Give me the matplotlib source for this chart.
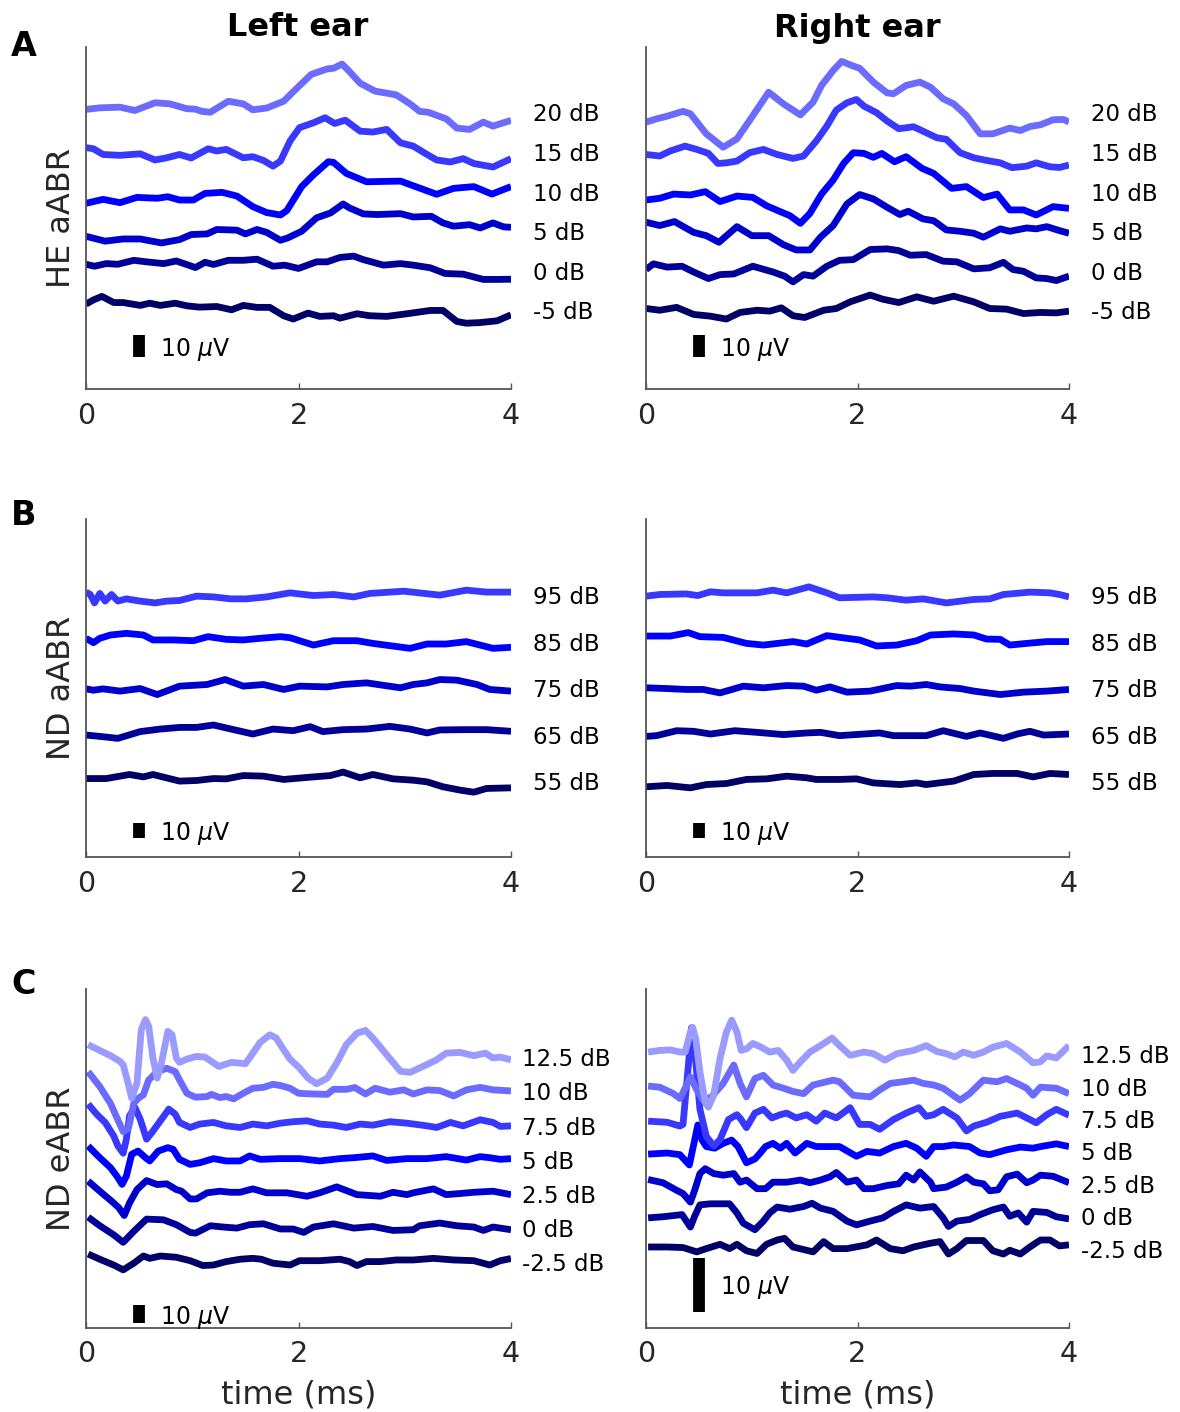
import numpy as np
import matplotlib
matplotlib.use("Agg")
import matplotlib.pyplot as plt

# ---- data (time in ms, amplitude in uV relative to each trace's level) ----
he_names = ["20 dB", "15 dB", "10 dB", "5 dB", "0 dB", "-5 dB"]
nd_names = ["95 dB", "85 dB", "75 dB", "65 dB", "55 dB"]
ea_names = ["12.5 dB", "10 dB", "7.5 dB", "5 dB", "2.5 dB", "0 dB", "-2.5 dB"]

he_left_t = [
    [0, 0.13, 0.32, 0.46, 0.65, 0.79, 0.95, 1.03, 1.09, 1.17, 1.34, 1.48, 1.57, 1.70, 1.86, 1.98, 2.12, 2.27, 2.33, 2.41, 2.47, 2.58, 2.72, 2.92, 3.05, 3.14, 3.22, 3.39, 3.49, 3.61, 3.74, 3.83, 4.0],
    [0, 0.07, 0.16, 0.32, 0.51, 0.65, 0.76, 0.88, 0.99, 1.15, 1.23, 1.32, 1.48, 1.57, 1.67, 1.76, 1.83, 1.92, 2.01, 2.14, 2.25, 2.34, 2.44, 2.58, 2.70, 2.83, 2.96, 3.08, 3.21, 3.30, 3.43, 3.55, 3.65, 3.83, 4.0],
    [0, 0.16, 0.32, 0.48, 0.67, 0.77, 0.88, 1.01, 1.12, 1.28, 1.42, 1.57, 1.70, 1.83, 1.89, 2.03, 2.14, 2.28, 2.33, 2.45, 2.64, 2.96, 3.30, 3.46, 3.65, 3.82, 4.0],
    [0, 0.18, 0.35, 0.51, 0.71, 0.88, 0.99, 1.14, 1.23, 1.42, 1.50, 1.61, 1.70, 1.83, 1.90, 2.03, 2.17, 2.30, 2.42, 2.48, 2.61, 2.74, 2.96, 3.08, 3.25, 3.36, 3.46, 3.61, 3.71, 3.83, 3.93, 4.0],
    [0, 0.08, 0.19, 0.30, 0.45, 0.57, 0.73, 0.85, 1.03, 1.12, 1.20, 1.34, 1.48, 1.61, 1.76, 1.87, 2.00, 2.17, 2.27, 2.39, 2.52, 2.61, 2.80, 2.96, 3.08, 3.24, 3.38, 3.55, 3.74, 3.87, 4.0],
    [0, 0.07, 0.15, 0.26, 0.35, 0.51, 0.60, 0.70, 0.84, 0.95, 1.07, 1.23, 1.37, 1.48, 1.61, 1.73, 1.86, 1.95, 2.09, 2.20, 2.33, 2.39, 2.55, 2.67, 2.83, 3.02, 3.24, 3.36, 3.49, 3.58, 3.71, 3.87, 4.0],
]
he_left_uv = [
    [1.1, 1.8, 2.1, 0.6, 4.1, 3.6, 1.4, 1.2, 0.2, -0.2, 4.8, 3.6, 0.9, 1.7, 4.8, 10.5, 17.0, 19.5, 19.8, 21.7, 18.8, 13.0, 9.4, 7.7, 3.6, 0.2, -0.2, -3.2, -7.4, -8.0, -4.7, -6.5, -3.9],
    [1.7, 1.2, -1.4, -1.8, -1.1, -3.9, -2.9, -1.4, -3.0, 1.2, 0.2, 0.9, -2.9, -2.4, -4.1, -6.7, -4.4, 4.7, 10.8, 13.0, 15.3, 12.7, 14.2, 9.2, 8.8, 10.0, 3.9, 2.4, -1.4, -3.9, -4.8, -3.3, -5.5, -7.1, -3.3],
    [-5.6, -3.8, -5.3, -2.9, -3.3, -2.6, -4.1, -4.1, -1.1, -0.6, -2.3, -7.1, -9.8, -10.9, -8.9, 2.0, 7.3, 13.3, 13.0, 8.0, 4.2, 4.5, -1.5, 1.2, 2.0, -1.4, 2.0],
    [-2.6, -4.8, -3.8, -3.8, -5.6, -4.1, -1.8, -1.5, 0.5, 0.2, -1.5, 0.5, -0.8, -4.4, -3.3, -0.3, 5.8, 8.0, 12.1, 10.3, 7.6, 7.3, 7.7, 6.2, 6.5, 3.5, 2.0, 2.7, 1.2, 3.5, 1.7, 1.5],
    [2.7, 1.8, 3.0, 2.7, 4.5, 3.8, 3.0, 4.2, 1.2, 3.6, 2.6, 4.5, 4.5, 5.0, 1.8, 2.3, 0.8, 3.8, 3.8, 5.8, 6.4, 4.8, 2.3, 3.0, 2.3, 1.1, -1.5, -1.8, -4.2, -4.2, -4.1],
    [2.6, 4.5, 6.1, 3.3, 3.3, 2.0, 3.0, 2.0, 3.0, 1.8, 1.2, 1.5, 0.0, 2.0, 1.1, 1.1, -2.7, -4.2, -1.5, -3.0, -2.7, -3.8, -1.8, -2.7, -3.0, -1.8, -0.3, -0.3, -5.3, -6.1, -5.8, -5.0, -2.3],
]

he_right_t = [
    [0, 0.10, 0.20, 0.35, 0.42, 0.57, 0.73, 0.86, 0.98, 1.16, 1.30, 1.46, 1.58, 1.66, 1.77, 1.85, 1.96, 2.02, 2.15, 2.28, 2.34, 2.46, 2.59, 2.69, 2.81, 2.91, 3.03, 3.16, 3.28, 3.44, 3.54, 3.63, 3.73, 3.85, 3.95, 4.0],
    [0, 0.13, 0.23, 0.37, 0.48, 0.59, 0.68, 0.76, 0.86, 0.98, 1.11, 1.24, 1.39, 1.49, 1.61, 1.71, 1.80, 1.90, 1.99, 2.06, 2.18, 2.28, 2.39, 2.53, 2.65, 2.75, 2.84, 2.97, 3.10, 3.22, 3.35, 3.46, 3.60, 3.69, 3.82, 3.91, 4.0],
    [0, 0.13, 0.26, 0.42, 0.56, 0.70, 0.86, 1.01, 1.14, 1.27, 1.36, 1.46, 1.55, 1.66, 1.77, 1.87, 1.96, 2.06, 2.15, 2.23, 2.35, 2.46, 2.61, 2.72, 2.89, 3.03, 3.19, 3.32, 3.44, 3.57, 3.69, 3.85, 4.0],
    [0, 0.13, 0.27, 0.45, 0.57, 0.69, 0.86, 1.00, 1.16, 1.30, 1.42, 1.55, 1.65, 1.77, 1.90, 2.02, 2.15, 2.28, 2.40, 2.48, 2.62, 2.72, 2.84, 2.97, 3.10, 3.19, 3.35, 3.44, 3.60, 3.69, 3.79, 3.91, 4.0],
    [0, 0.07, 0.20, 0.34, 0.45, 0.59, 0.70, 0.83, 1.01, 1.20, 1.31, 1.39, 1.49, 1.58, 1.71, 1.83, 1.96, 2.12, 2.28, 2.39, 2.50, 2.65, 2.81, 2.94, 3.10, 3.25, 3.38, 3.47, 3.57, 3.69, 3.79, 3.88, 4.0],
    [0, 0.13, 0.29, 0.45, 0.61, 0.76, 0.89, 1.05, 1.17, 1.28, 1.39, 1.50, 1.68, 1.80, 1.93, 2.12, 2.24, 2.39, 2.56, 2.72, 2.91, 3.10, 3.25, 3.41, 3.57, 3.73, 3.88, 4.0],
]
he_right_uv = [
    [-4.7, -3.2, -2.0, 0.2, -0.9, -10.0, -16.1, -12.3, -3.9, 8.9, 3.6, -1.4, 4.4, 12.0, 18.8, 22.9, 20.8, 19.8, 13.5, 8.6, 8.2, 12.0, 13.5, 11.2, 5.9, 3.6, -1.7, -10.0, -10.0, -7.4, -8.5, -6.7, -5.9, -3.6, -3.5, -4.7],
    [-1.4, -2.1, 0.2, 2.4, 0.9, -0.9, -5.5, -5.2, -4.4, -0.6, 0.9, -1.4, -3.2, -2.1, 4.7, 11.5, 18.8, 22.1, 23.6, 20.6, 17.6, 13.8, 10.3, 11.2, 8.5, 6.2, 5.5, -0.6, -2.9, -4.1, -5.2, -7.4, -6.7, -5.2, -7.0, -7.3, -6.2],
    [-4.1, -3.3, -1.4, -1.8, -0.3, -4.8, -2.3, -2.9, -6.7, -9.4, -11.2, -14.7, -10.2, -1.4, 5.0, 12.6, 17.4, 17.1, 15.3, 17.1, 13.3, 15.6, 10.3, 8.0, 1.2, 2.0, -3.0, -1.4, -8.6, -8.6, -10.9, -7.1, -7.9],
    [3.8, 2.3, 4.1, -0.8, -2.3, -5.3, 1.8, -2.3, -2.3, -6.4, -8.8, -8.8, -3.0, 2.3, 12.1, 16.4, 14.4, 10.6, 7.3, 8.8, 5.3, 4.5, 0.3, -0.3, -1.2, -3.0, 0.8, -0.3, 1.2, 0.8, 1.8, 0.0, -1.2],
    [0.3, 2.9, 1.4, 1.8, -0.8, -3.8, -2.0, -1.7, 1.8, -0.8, -2.7, -5.3, -2.0, -2.7, 1.8, 4.5, 4.8, 9.4, 9.7, 8.9, 6.8, 7.1, 4.1, 3.8, 0.6, 1.1, 3.6, 0.3, -0.5, -3.5, -3.8, -4.7, -2.7],
    [0.6, -0.2, 1.1, -2.1, -2.9, -4.2, -1.2, -0.2, -0.6, 0.9, -2.7, -3.5, -0.2, 0.6, 3.6, 6.7, 4.8, 3.3, 5.9, 3.9, 6.2, 3.6, 0.6, 0.3, -1.7, -1.2, -1.4, -0.6],
]

nd_left_t = [
    [0, 0.04, 0.08, 0.13, 0.18, 0.24, 0.30, 0.38, 0.51, 0.65, 0.76, 0.88, 1.04, 1.20, 1.36, 1.51, 1.70, 1.92, 2.14, 2.33, 2.52, 2.67, 2.99, 3.33, 3.58, 3.77, 4.0],
    [0, 0.07, 0.13, 0.23, 0.38, 0.54, 0.63, 0.82, 1.01, 1.15, 1.32, 1.48, 1.64, 1.83, 1.92, 2.14, 2.33, 2.55, 2.70, 3.05, 3.21, 3.39, 3.58, 3.83, 4.0],
    [0, 0.07, 0.16, 0.32, 0.51, 0.67, 0.88, 1.14, 1.31, 1.48, 1.67, 1.86, 2.01, 2.27, 2.42, 2.64, 2.96, 3.08, 3.21, 3.33, 3.49, 3.68, 3.80, 4.0],
    [0, 0.13, 0.30, 0.51, 0.70, 0.88, 1.04, 1.20, 1.39, 1.57, 1.76, 1.95, 2.11, 2.23, 2.42, 2.64, 2.86, 3.05, 3.21, 3.33, 3.55, 3.77, 4.0],
    [0, 0.19, 0.41, 0.54, 0.63, 0.88, 1.04, 1.20, 1.32, 1.48, 1.67, 1.86, 2.14, 2.30, 2.42, 2.58, 2.70, 2.89, 3.08, 3.21, 3.36, 3.52, 3.65, 3.77, 4.0],
]
nd_left_uv = [
    [1.6, 0.0, -5.6, 0.7, -4.4, 0.0, -4.4, -2.9, -4.4, -5.6, -4.4, -4.0, -1.1, -1.6, -2.9, -2.9, -1.6, 1.1, -0.7, 0.0, -1.6, 0.7, 2.2, -0.4, 2.9, 1.6, 1.6],
    [1.8, -1.1, 1.8, 4.0, 5.1, 4.0, 0.7, 0.7, 0.2, 2.9, 1.1, 0.7, 1.8, 2.9, 2.2, -2.7, 0.2, 0.2, -1.6, -4.9, -2.0, -2.0, -0.4, -4.9, -4.2],
    [-0.9, -1.8, -0.9, -2.4, -0.7, -4.7, 0.9, 2.0, 5.3, 0.9, 2.0, -1.3, 0.9, 0.4, 2.0, 3.1, -0.2, 2.0, 3.1, 5.3, 4.9, 2.0, -1.3, -2.4],
    [-0.7, -1.6, -2.9, 1.6, 3.3, 4.4, 4.4, 6.0, 2.9, 0.0, 3.3, 2.2, 4.9, 1.6, 2.9, 3.3, 5.1, 3.3, 0.7, 2.7, 2.9, 2.9, 1.8],
    [1.3, 1.3, 4.0, 2.4, 4.0, -0.4, 0.0, 1.3, 1.1, 3.3, 2.9, 0.7, 2.4, 3.3, 5.6, 1.8, 4.0, 1.1, 0.2, -0.9, -4.2, -6.4, -7.8, -5.3, -4.9],
]

nd_right_t = [
    [0, 0.13, 0.38, 0.49, 0.61, 0.73, 1.05, 1.20, 1.33, 1.54, 1.71, 1.83, 2.15, 2.28, 2.46, 2.62, 2.84, 3.10, 3.25, 3.38, 3.63, 3.82, 3.91, 4.0],
    [0, 0.23, 0.40, 0.51, 0.73, 0.95, 1.11, 1.39, 1.52, 1.71, 1.90, 2.02, 2.18, 2.37, 2.56, 2.69, 2.91, 3.10, 3.22, 3.35, 3.44, 3.60, 3.79, 4.0],
    [0, 0.20, 0.38, 0.54, 0.70, 0.92, 1.11, 1.33, 1.49, 1.61, 1.74, 1.90, 2.12, 2.37, 2.50, 2.65, 2.78, 2.97, 3.10, 3.35, 3.57, 3.79, 4.0],
    [0, 0.10, 0.29, 0.45, 0.61, 0.84, 1.05, 1.30, 1.52, 1.65, 1.83, 2.21, 2.34, 2.56, 2.65, 2.81, 3.03, 3.16, 3.38, 3.51, 3.63, 3.76, 4.0],
    [0, 0.20, 0.42, 0.57, 0.76, 0.95, 1.14, 1.33, 1.52, 1.61, 1.83, 1.99, 2.15, 2.40, 2.56, 2.65, 2.91, 3.10, 3.28, 3.51, 3.66, 3.82, 4.0],
]
nd_right_uv = [
    [-1.1, 0.0, 0.4, -0.7, 1.8, 1.1, 1.1, 2.9, 1.1, 5.1, 1.1, -2.2, -1.6, -2.2, -3.8, -2.9, -5.6, -3.3, -2.9, 0.0, 1.6, 1.1, 0.0, -1.6],
    [3.3, 3.3, 5.6, 2.9, 2.4, -1.6, -2.7, -0.4, -2.0, 3.6, 1.8, 0.7, -3.3, -2.7, 0.2, 4.0, 4.7, 4.0, 1.3, 1.1, -2.7, -1.6, -0.4, -0.4],
    [-0.2, -0.7, -1.3, -1.3, -3.6, 0.9, -0.2, 1.3, 0.9, -1.8, 0.4, -3.1, -2.4, 1.3, 0.9, 2.0, 0.4, -0.7, -2.4, -4.7, -3.1, -2.4, -1.3],
    [-1.6, -1.1, 2.2, 1.8, 0.0, 2.2, 1.1, -0.4, 0.7, 1.1, -1.1, 0.7, -1.1, -1.1, -1.1, 2.2, -1.6, 0.7, -2.9, 0.0, 1.8, -0.7, 0.0],
    [-4.2, -3.3, -4.9, -2.7, -2.0, 0.7, 1.1, 2.9, 1.8, 0.7, 0.7, 1.1, -1.6, -2.7, -1.6, -2.7, -0.4, 4.0, 4.7, 4.7, 2.4, 4.7, 4.0],
]

ea_left_t = [
    [0.02, 0.13, 0.23, 0.32, 0.35, 0.40, 0.43, 0.48, 0.52, 0.56, 0.59, 0.63, 0.67, 0.71, 0.77, 0.81, 0.85, 0.88, 0.95, 1.04, 1.12, 1.18, 1.25, 1.37, 1.50, 1.56, 1.64, 1.73, 1.79, 1.86, 1.92, 2.01, 2.09, 2.17, 2.27, 2.36, 2.45, 2.55, 2.63, 2.70, 2.83, 2.96, 3.05, 3.17, 3.30, 3.39, 3.52, 3.65, 3.76, 3.83, 3.90, 4.0],
    [0.02, 0.13, 0.23, 0.30, 0.35, 0.40, 0.45, 0.49, 0.54, 0.59, 0.67, 0.76, 0.84, 0.88, 0.95, 1.03, 1.14, 1.18, 1.26, 1.32, 1.39, 1.48, 1.57, 1.67, 1.76, 1.83, 1.92, 2.00, 2.14, 2.27, 2.33, 2.45, 2.53, 2.63, 2.72, 2.86, 2.99, 3.08, 3.21, 3.33, 3.46, 3.58, 3.71, 3.83, 4.0],
    [0.02, 0.10, 0.18, 0.26, 0.30, 0.35, 0.38, 0.41, 0.46, 0.51, 0.57, 0.62, 0.70, 0.78, 0.84, 0.88, 0.98, 1.07, 1.20, 1.32, 1.45, 1.57, 1.70, 1.83, 1.95, 2.08, 2.20, 2.33, 2.45, 2.58, 2.70, 2.86, 3.02, 3.21, 3.30, 3.43, 3.55, 3.71, 3.83, 3.90, 4.0],
    [0.02, 0.13, 0.23, 0.29, 0.34, 0.38, 0.43, 0.49, 0.56, 0.60, 0.68, 0.77, 0.82, 0.88, 0.98, 1.07, 1.20, 1.32, 1.45, 1.54, 1.64, 1.83, 2.01, 2.20, 2.39, 2.52, 2.70, 2.83, 3.02, 3.21, 3.39, 3.58, 3.71, 3.80, 3.90, 4.0],
    [0.02, 0.13, 0.26, 0.31, 0.36, 0.41, 0.48, 0.57, 0.67, 0.76, 0.85, 0.90, 0.98, 1.04, 1.14, 1.26, 1.36, 1.45, 1.57, 1.70, 1.89, 2.08, 2.20, 2.36, 2.55, 2.77, 2.89, 3.02, 3.08, 3.27, 3.39, 3.52, 3.65, 3.83, 4.0],
    [0.02, 0.13, 0.26, 0.35, 0.45, 0.57, 0.73, 0.85, 0.98, 1.03, 1.17, 1.29, 1.42, 1.54, 1.67, 1.83, 1.95, 2.05, 2.14, 2.33, 2.52, 2.70, 2.89, 3.08, 3.14, 3.33, 3.49, 3.65, 3.74, 3.83, 4.0],
    [0.02, 0.13, 0.26, 0.35, 0.45, 0.54, 0.60, 0.70, 0.85, 0.98, 1.10, 1.20, 1.32, 1.45, 1.57, 1.65, 1.76, 1.92, 2.01, 2.20, 2.39, 2.48, 2.55, 2.64, 2.77, 2.92, 3.08, 3.27, 3.46, 3.65, 3.80, 3.90, 4.0],
]
ea_left_uv = [
    [6.7, 3.5, 0.6, -2.6, -4.4, -15.6, -23.0, -14.6, 15.0, 20.6, 16.9, -0.7, -11.9, -3.5, 14.1, 12.2, -0.7, -3.1, -1.3, 0.2, -0.2, -2.6, -5.4, -3.1, -3.9, 1.1, 8.0, 12.2, 10.4, 3.9, -1.3, -6.3, -11.9, -15.0, -11.9, -3.5, 6.7, 13.1, 14.6, 10.4, 1.1, -8.1, -8.7, -5.4, -1.7, 2.0, 2.4, 0.6, 2.0, -0.7, -0.2, -1.7],
    [10.7, 2.4, -6.9, -16.1, -22.6, -20.7, -6.9, -4.1, -2.2, 6.1, 10.7, 12.6, 10.7, 6.1, -1.3, -3.5, -3.1, -1.9, -3.7, -3.1, -4.4, -1.3, 1.5, 2.0, 3.7, 3.0, 1.5, -1.3, -1.7, -1.9, 0.9, 0.9, 1.9, -1.7, 1.5, -0.7, 0.6, -1.7, 0.6, 0.2, -2.8, 0.6, 2.0, 0.6, 0.0],
    [11.7, 6.1, 1.5, -5.9, -11.5, -15.6, -7.8, 5.2, 9.8, 3.3, -7.8, -4.1, 2.4, 8.9, 6.1, 1.5, -1.3, 0.6, 1.5, -0.4, -1.3, 0.6, -0.4, 1.1, 1.9, 2.4, 0.6, 0.0, -1.3, 0.6, 0.0, 1.9, 1.1, -0.4, -1.3, 1.5, -0.4, 3.0, 1.5, -0.7, -0.4],
    [7.4, 0.9, -4.6, -9.3, -13.9, -9.3, 2.8, 4.6, 0.9, -0.9, 4.6, 6.5, 5.6, 0.0, -2.8, -1.9, 0.4, -0.9, -0.9, 1.9, 0.0, 0.4, 0.4, -0.9, 0.4, 0.9, 1.9, -0.6, 0.4, 0.4, 1.5, -0.4, 1.5, 0.9, 0.0, 0.4],
    [6.9, 1.3, -5.2, -8.0, -12.2, -5.2, 2.2, 7.2, 5.0, 5.4, 2.2, 1.3, -3.0, -3.0, 0.4, 1.3, 0.7, 0.7, 2.6, 0.4, 0.4, -1.5, 0.4, 3.7, -0.6, -1.5, 0.7, -0.6, 0.4, 2.6, -0.6, 0.0, 0.7, 1.3, -0.6],
    [5.9, 1.1, -3.9, -8.1, -2.0, 4.8, 4.4, 1.7, -2.6, -3.0, 1.1, 0.4, -0.2, 1.7, 2.2, -0.7, -0.7, -2.6, 0.4, 2.2, -0.2, 0.7, -1.5, -1.1, 1.1, 2.6, 1.1, 0.4, -1.5, 0.4, -1.1],
    [4.4, 1.5, -1.7, -4.4, -0.7, 3.3, 2.0, 3.3, 2.6, 0.7, -2.0, -1.7, 0.2, 1.5, 2.0, 1.5, -0.7, -1.7, 0.7, 0.7, 1.5, 0.2, -2.0, 0.2, 0.2, 1.1, 1.1, 2.0, 1.1, 0.7, -1.7, 0.7, 1.9],
]

ea_right_t = [
    [0.02, 0.13, 0.23, 0.32, 0.37, 0.42, 0.44, 0.47, 0.51, 0.56, 0.59, 0.64, 0.70, 0.76, 0.81, 0.86, 0.90, 0.95, 1.01, 1.09, 1.17, 1.25, 1.33, 1.39, 1.46, 1.55, 1.65, 1.76, 1.83, 1.93, 2.06, 2.15, 2.26, 2.37, 2.53, 2.65, 2.75, 2.84, 2.92, 3.00, 3.10, 3.19, 3.28, 3.41, 3.54, 3.66, 3.73, 3.79, 3.88, 4.0],
    [0.02, 0.13, 0.26, 0.32, 0.37, 0.42, 0.48, 0.54, 0.62, 0.73, 0.83, 0.89, 0.95, 1.03, 1.11, 1.20, 1.30, 1.39, 1.49, 1.58, 1.77, 1.83, 1.96, 2.12, 2.21, 2.31, 2.43, 2.53, 2.62, 2.72, 2.81, 2.97, 3.06, 3.19, 3.32, 3.41, 3.54, 3.60, 3.66, 3.73, 3.88, 4.0],
    [0.02, 0.20, 0.32, 0.35, 0.40, 0.43, 0.46, 0.51, 0.57, 0.64, 0.70, 0.78, 0.86, 0.90, 0.95, 1.03, 1.11, 1.19, 1.27, 1.33, 1.42, 1.52, 1.61, 1.69, 1.80, 1.93, 2.02, 2.12, 2.21, 2.34, 2.46, 2.58, 2.65, 2.72, 2.81, 2.94, 3.03, 3.10, 3.22, 3.35, 3.51, 3.57, 3.69, 3.79, 3.88, 4.0],
    [0.02, 0.20, 0.32, 0.41, 0.46, 0.49, 0.53, 0.57, 0.65, 0.73, 0.81, 0.87, 0.95, 1.03, 1.08, 1.13, 1.20, 1.27, 1.33, 1.41, 1.52, 1.61, 1.74, 1.83, 1.99, 2.09, 2.21, 2.34, 2.46, 2.56, 2.65, 2.72, 2.81, 2.91, 3.06, 3.16, 3.25, 3.41, 3.54, 3.66, 3.73, 3.88, 4.0],
    [0.02, 0.16, 0.29, 0.35, 0.42, 0.46, 0.51, 0.56, 0.64, 0.73, 0.83, 0.89, 0.95, 1.05, 1.13, 1.20, 1.33, 1.46, 1.55, 1.65, 1.74, 1.80, 1.90, 1.99, 2.06, 2.15, 2.28, 2.39, 2.46, 2.53, 2.59, 2.69, 2.72, 2.84, 2.94, 3.03, 3.10, 3.19, 3.25, 3.33, 3.41, 3.51, 3.60, 3.66, 3.73, 3.85, 4.0],
    [0.02, 0.16, 0.34, 0.42, 0.46, 0.51, 0.61, 0.79, 0.86, 0.92, 1.03, 1.11, 1.17, 1.24, 1.36, 1.49, 1.57, 1.65, 1.77, 1.90, 1.99, 2.12, 2.24, 2.34, 2.46, 2.59, 2.72, 2.81, 2.86, 2.94, 3.06, 3.16, 3.28, 3.38, 3.44, 3.52, 3.60, 3.66, 3.79, 3.88, 4.0],
    [0.02, 0.20, 0.35, 0.48, 0.57, 0.70, 0.79, 0.86, 0.95, 1.05, 1.14, 1.24, 1.31, 1.39, 1.58, 1.68, 1.77, 1.90, 2.09, 2.18, 2.31, 2.43, 2.53, 2.69, 2.78, 2.86, 2.94, 3.03, 3.19, 3.28, 3.38, 3.44, 3.54, 3.63, 3.73, 3.82, 3.91, 4.0],
]
ea_right_uv = [
    [0.3, 0.6, 0.7, 0.3, 0.3, 4.0, 4.9, 2.8, -3.4, -9.0, -9.9, -7.7, -0.9, 4.0, 6.2, 4.0, 0.6, 0.9, 1.9, 1.2, 0.3, 0.6, -1.2, -3.1, -1.5, 0.3, 1.5, 2.9, 1.5, -0.3, 0.3, 0.0, -1.2, 0.0, 0.6, 1.5, 0.4, 0.0, -0.6, 0.3, -0.3, 0.3, 1.2, 1.9, 0.3, -1.7, -1.5, -0.4, -0.8, 1.5],
    [0.0, -0.2, -1.4, -2.3, -0.4, 1.7, -0.7, -2.6, -2.0, 0.5, 3.9, 0.5, -2.0, 1.4, 2.0, 0.2, -0.4, -1.0, -1.4, 0.2, 1.1, 0.8, -1.7, -2.0, -0.7, 0.5, 0.8, 1.1, 0.5, 0.2, -0.4, -2.6, -1.4, 1.1, 0.8, 1.4, 0.2, -0.4, -1.7, -0.2, -0.4, -1.4],
    [-0.5, -0.7, -1.4, -1.1, 9.7, 16.8, 12.8, 1.7, -3.3, -5.1, -3.9, -0.2, 0.7, -0.2, -1.7, 1.0, 1.7, 0.1, 0.7, 1.0, 0.1, 0.7, -0.5, 1.0, 0.1, 2.0, -1.1, -1.1, -2.0, -0.2, 1.0, 2.0, 0.4, 0.7, 1.7, 0.1, -2.3, -1.4, -0.7, 0.4, 1.0, 0.4, -0.8, 0.7, 1.7, 0.6],
    [-0.6, -0.4, -0.7, -2.6, 2.0, 4.8, 2.0, 0.8, 0.5, 1.4, 2.0, 0.8, -2.2, -1.5, -0.4, 0.8, 1.4, 0.5, 1.4, -0.4, 1.4, 0.8, 0.8, 0.8, -1.0, -0.1, -0.4, 0.8, 1.4, 0.5, -1.0, 0.8, 0.8, 1.1, 0.8, -0.4, -0.7, 0.2, 0.7, 0.5, 0.8, 1.3, 0.8],
    [0.7, 0.1, -1.3, -1.9, -3.5, -1.3, 1.8, 2.7, 1.8, 1.5, 1.8, 0.2, 0.6, -1.0, -1.0, 0.2, 0.2, 0.6, 0.1, 0.6, 1.2, 2.0, 0.2, 0.6, -1.0, -1.0, -0.4, -0.1, 1.5, 0.6, 2.1, 0.2, -1.0, -0.7, 0.2, 1.2, 0.2, -0.1, -1.4, -1.2, 1.2, 1.7, 0.1, 0.6, 1.5, 1.3, 0.1],
    [-0.4, -0.2, 0.2, -2.1, -0.1, 2.0, 2.2, 2.2, 0.5, -1.4, -2.6, -1.0, 0.5, 1.6, 1.2, 1.7, 2.3, 1.4, 0.8, -1.0, -1.7, -1.0, -0.4, 0.8, 2.0, 1.4, 1.7, -0.4, -2.0, -1.0, -0.7, 0.2, 1.1, 1.6, -0.1, 0.5, -1.2, 0.8, 0.6, -0.2, -0.6],
    [0.2, 0.2, 0.1, -0.7, -0.1, 0.7, -0.1, 0.7, -0.5, -1.0, 0.7, 1.5, 1.8, 0.2, -0.7, 1.2, -0.1, -0.1, 0.6, 1.5, -0.1, -0.5, 0.2, 0.9, 1.2, -1.1, -0.1, 1.4, 1.4, -0.5, -1.1, -0.4, -1.1, 0.2, 1.5, 1.5, 0.4, 0.6],
]

# ---- layout / style ----
he_colours = ["#6b6bff", "#3838ff", "#0000ff", "#0000cc", "#000099", "#000066"]
nd_colours = ["#3838ff", "#0000ff", "#0000cc", "#000099", "#000066"]
ea_colours = ["#9b9bff", "#6b6bff", "#3838ff", "#0000ff", "#0000cc", "#000099", "#000066"]

he_levels = [126, 108, 90, 72, 54, 36]
nd_levels = [175, 144, 113, 82, 51]
ea_left_levels = [150.7, 131.7, 112.7, 93.7, 74.7, 55.7, 36.7]
ea_right_levels = [50.8, 44.8, 38.8, 32.8, 26.8, 20.8, 14.8]

TEXT = "#262626"
SPINE = "#555555"


def draw_panel(ax, times, traces, names, levels, colours, top, bar, label_x):
    for t, uv, name, lev, c in reversed(list(zip(times, traces, names, levels, colours))):
        ax.plot(t, np.asarray(uv) + lev, color=c, lw=4.9,
                solid_joinstyle="round", solid_capstyle="butt")
        ax.annotate(name, (label_x, lev), xytext=(0, -2.2), textcoords="offset points",
                    fontsize=16.5, color="black", va="center", ha="left",
                    annotation_clip=False)
    ax.plot([0.5, 0.5], bar, color="black", lw=8.5, solid_capstyle="butt")
    ax.annotate("10 $\\mu$V", (0.7, np.mean(bar)), xytext=(0, -2.2),
                textcoords="offset points", fontsize=17, color="black",
                va="center", ha="left")
    ax.set_xlim(0, 4)
    ax.set_ylim(0, top)
    ax.set_xticks([0, 2, 4])
    ax.set_yticks([])
    for side in ["top", "right"]:
        ax.spines[side].set_visible(False)
    for side in ["left", "bottom"]:
        ax.spines[side].set_color(SPINE)
        ax.spines[side].set_linewidth(1.3)
    ax.tick_params(axis="x", direction="in", length=4, width=1, color=SPINE,
                   labelsize=20.5, labelcolor=TEXT, pad=9)


fig = plt.figure(figsize=(11.8, 14.12), dpi=100)
W, H = 1180.0, 1412.0


def add_axes(x0, x1, y0, y1):
    return fig.add_axes([x0 / W, 1 - y1 / H, (x1 - x0) / W, (y1 - y0) / H])


ax_he_l = add_axes(86, 511, 47, 389)
ax_he_r = add_axes(646, 1069, 47, 389)
ax_nd_l = add_axes(86, 511, 519, 857)
ax_nd_r = add_axes(646, 1069, 519, 857)
ax_ea_l = add_axes(86, 511, 989, 1328)
ax_ea_r = add_axes(646, 1069, 989, 1328)

draw_panel(ax_he_l, he_left_t, he_left_uv, he_names, he_levels, he_colours,
           342 / 2.2, (14.5, 24.5), 4.21)
draw_panel(ax_he_r, he_right_t, he_right_uv, he_names, he_levels, he_colours,
           342 / 2.2, (14.5, 24.5), 4.21)
draw_panel(ax_nd_l, nd_left_t, nd_left_uv, nd_names, nd_levels, nd_colours,
           338 / 1.5, (12.7, 22.7), 4.21)
draw_panel(ax_nd_r, nd_right_t, nd_right_uv, nd_names, nd_levels, nd_colours,
           338 / 1.5, (12.7, 22.7), 4.21)
draw_panel(ax_ea_l, ea_left_t, ea_left_uv, ea_names, ea_left_levels, ea_colours,
           339 / 1.8, (2.8, 12.8), 4.10)
draw_panel(ax_ea_r, ea_right_t, ea_right_uv, ea_names, ea_right_levels, ea_colours,
           339 / 5.4, (3.0, 13.0), 4.11)

for ax, lab in [(ax_he_l, "HE aABR"), (ax_nd_l, "ND aABR"), (ax_ea_l, "ND eABR")]:
    ax.set_ylabel(lab, fontsize=23, color=TEXT)
    ax.yaxis.set_label_coords(-0.022, 0.5)

for ax in [ax_ea_l, ax_ea_r]:
    ax.set_xlabel("time (ms)", fontsize=23, color=TEXT, labelpad=8)

fig.text(298 / W, 1 - 28 / H, "Left ear", fontsize=23, fontweight="bold",
         ha="center", va="center")
fig.text(857 / W, 1 - 28 / H, "Right ear", fontsize=23, fontweight="bold",
         ha="center", va="center")
for y, letter in [(47, "A"), (515, "B"), (985, "C")]:
    fig.text(11 / W, 1 - y / H, letter, fontsize=24, fontweight="bold",
             ha="left", va="center")

fig.savefig("out.png", dpi=100)
